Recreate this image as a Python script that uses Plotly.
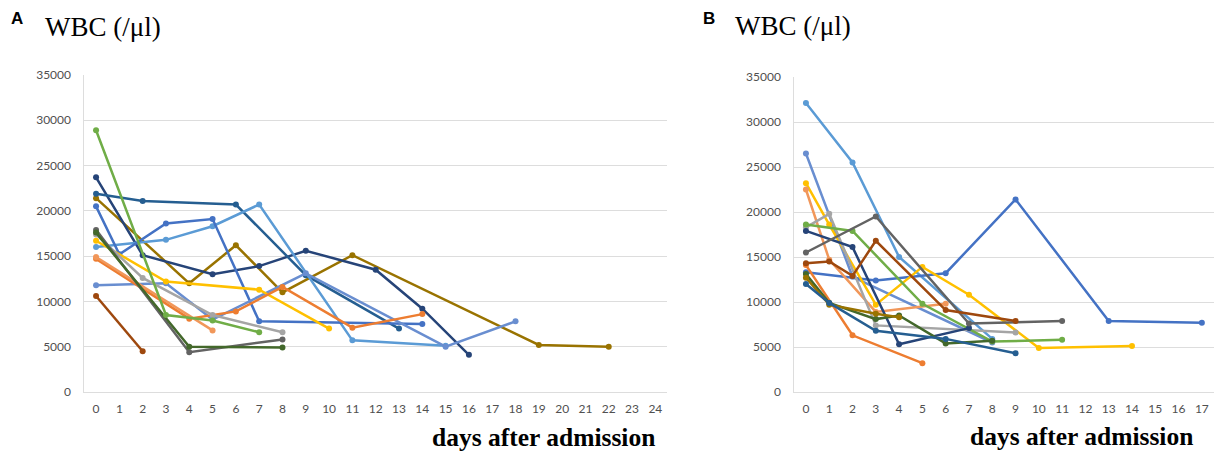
import plotly.graph_objects as go

# ---------------- Panel A data (days after admission, WBC /µl) ----------------
A_green_days = [0, 3, 5, 7]
A_green_wbc = [28900, 8500, 7900, 6600]
A_navy_days = [0, 2, 5, 7, 9, 12, 14, 16]
A_navy_wbc = [23700, 15100, 13000, 13900, 15600, 13500, 9200, 4100]
A_steel_days = [0, 2, 6, 9, 13]
A_steel_wbc = [21900, 21100, 20700, 12900, 7000]
A_sky_days = [0, 3, 5, 7, 11, 15]
A_sky_wbc = [16000, 16800, 18300, 20700, 5700, 5100]
A_royal_days = [0, 1, 3, 5, 7, 14]
A_royal_wbc = [20500, 15200, 18600, 19100, 7800, 7500]
A_cornflower_days = [0, 3, 5, 9, 15, 18]
A_cornflower_wbc = [11800, 12000, 8000, 13100, 5000, 7800]
A_olive_days = [0, 4, 6, 8, 11, 19, 22]
A_olive_wbc = [21400, 12000, 16200, 11000, 15100, 5200, 5000]
A_gold_days = [0, 3, 7, 10]
A_gold_wbc = [16700, 12200, 11300, 7000]
A_orange_days = [0, 4, 6, 8, 11, 14]
A_orange_wbc = [14700, 8100, 8900, 11600, 7100, 8600]
A_lorange_days = [0, 5]
A_lorange_wbc = [14900, 6800]
A_gray_days = [0, 2, 5, 8]
A_gray_wbc = [17400, 12600, 8500, 6600]
A_charcoal_days = [0, 4, 8]
A_charcoal_wbc = [17900, 4400, 5800]
A_dgreen_days = [0, 4, 8]
A_dgreen_wbc = [17600, 5000, 4900]
A_rust_days = [0, 2]
A_rust_wbc = [10600, 4500]

# ---------------- Panel B data ----------------
B_sky_days = [0, 2, 4, 8]
B_sky_wbc = [32100, 25500, 15000, 5900]
B_cornflower_days = [0, 2, 8]
B_cornflower_wbc = [26500, 12800, 5500]
B_royal_days = [0, 3, 6, 9, 13, 17]
B_royal_wbc = [13300, 12400, 13200, 21400, 7900, 7700]
B_gold_days = [0, 1, 3, 5, 7, 10, 14]
B_gold_wbc = [23200, 18600, 9700, 13900, 10800, 4900, 5100]
B_lorange_days = [0, 1, 3, 6]
B_lorange_wbc = [22500, 14700, 8900, 9800]
B_orange_days = [0, 2, 5]
B_orange_wbc = [14100, 6300, 3200]
B_gray_days = [0, 1, 3, 9]
B_gray_wbc = [18300, 19800, 7400, 6600]
B_green_days = [0, 2, 5, 8, 11]
B_green_wbc = [18600, 17900, 9800, 5600, 5800]
B_navy_days = [0, 2, 4, 7]
B_navy_wbc = [17900, 16100, 5300, 7100]
B_charcoal_days = [0, 3, 7, 11]
B_charcoal_wbc = [15500, 19500, 7600, 7900]
B_rust_days = [0, 1, 2, 3, 6, 9]
B_rust_wbc = [14300, 14500, 12900, 16800, 9100, 7900]
B_dgreen_days = [0, 1, 3, 4, 6, 8]
B_dgreen_wbc = [13100, 9900, 8100, 8500, 5400, 5700]
B_olive_days = [0, 1, 3, 4]
B_olive_wbc = [12700, 9700, 8700, 8300]
B_steel_days = [0, 1, 3, 6, 9]
B_steel_wbc = [12000, 9900, 6800, 5900, 4300]

A_ticks = list(range(0, 25))
B_ticks = list(range(0, 18))
Y_ticks = [0, 5000, 10000, 15000, 20000, 25000, 30000, 35000]

COL = {
    "royal": "#4472C4", "orange": "#ED7D31", "gray": "#A5A5A5", "gold": "#FFC000",
    "sky": "#5B9BD5", "green": "#70AD47", "navy": "#264478", "rust": "#9E480E",
    "charcoal": "#636363", "olive": "#997300", "steel": "#255E91", "dgreen": "#43682B",
    "cornflower": "#698ED0", "lorange": "#F1975A",
}

A_series = [
    ("olive", A_olive_days, A_olive_wbc), ("navy", A_navy_days, A_navy_wbc),
    ("steel", A_steel_days, A_steel_wbc), ("sky", A_sky_days, A_sky_wbc),
    ("royal", A_royal_days, A_royal_wbc), ("cornflower", A_cornflower_days, A_cornflower_wbc),
    ("gold", A_gold_days, A_gold_wbc), ("orange", A_orange_days, A_orange_wbc),
    ("lorange", A_lorange_days, A_lorange_wbc), ("gray", A_gray_days, A_gray_wbc),
    ("charcoal", A_charcoal_days, A_charcoal_wbc), ("dgreen", A_dgreen_days, A_dgreen_wbc),
    ("rust", A_rust_days, A_rust_wbc), ("green", A_green_days, A_green_wbc),
]
B_series = [
    ("sky", B_sky_days, B_sky_wbc), ("cornflower", B_cornflower_days, B_cornflower_wbc),
    ("royal", B_royal_days, B_royal_wbc), ("gold", B_gold_days, B_gold_wbc),
    ("lorange", B_lorange_days, B_lorange_wbc), ("orange", B_orange_days, B_orange_wbc),
    ("gray", B_gray_days, B_gray_wbc), ("green", B_green_days, B_green_wbc),
    ("navy", B_navy_days, B_navy_wbc), ("charcoal", B_charcoal_days, B_charcoal_wbc),
    ("rust", B_rust_days, B_rust_wbc), ("dgreen", B_dgreen_days, B_dgreen_wbc),
    ("olive", B_olive_days, B_olive_wbc), ("steel", B_steel_days, B_steel_wbc),
]

fig = go.Figure()
for name, d, v in A_series:
    fig.add_trace(go.Scatter(x=d, y=v, mode="lines+markers", xaxis="x", yaxis="y",
                             line=dict(color=COL[name], width=2.5),
                             marker=dict(color=COL[name], size=6), showlegend=False))
for name, d, v in B_series:
    fig.add_trace(go.Scatter(x=d, y=v, mode="lines+markers", xaxis="x2", yaxis="y2",
                             line=dict(color=COL[name], width=2.5),
                             marker=dict(color=COL[name], size=6), showlegend=False))

W, H = 1216, 455
tickfont = dict(family="Lato", size=12, color="#505050")
grid = "#DDDDDD"

def xax(domain, ticks, anchor):
    return dict(domain=domain, range=[-0.5, ticks[-1] + 0.5], tickmode="array",
                tickvals=ticks, ticktext=[str(t) for t in ticks], showgrid=False,
                zeroline=False, showline=True, linecolor=grid, linewidth=1,
                ticks="", tickfont=tickfont, anchor=anchor, ticklabelstandoff=6,
                automargin=False)

def yax(domain, anchor):
    return dict(domain=domain, range=[0, 35000], tickmode="array", tickvals=Y_ticks,
                ticktext=[str(t) for t in Y_ticks], showgrid=True, gridcolor=grid,
                gridwidth=1, zeroline=False, showline=True, linecolor=grid,
                ticks="", tickfont=tickfont, anchor=anchor, ticklabelstandoff=10,
                automargin=False)

fig.update_layout(
    width=W, height=H, margin=dict(l=0, r=0, t=0, b=0, autoexpand=False),
    paper_bgcolor="white", plot_bgcolor="white",
    xaxis=xax([84.4 / W, 667 / W], A_ticks, "y"),
    yaxis=yax([(H - 392) / H, (H - 75) / H], "x"),
    xaxis2=xax([794.3 / W, 1213.5 / W], B_ticks, "y2"),
    yaxis2=yax([(H - 392) / H, (H - 77) / H], "x2"),
)

serif = "Liberation Serif"
def ann(text, x, y, font, xanchor="left"):
    fig.add_annotation(text=text, x=x / W, y=1 - y / H, xref="paper", yref="paper",
                       xanchor=xanchor, yanchor="middle", showarrow=False, font=font)

ann("<b>A</b>", 9, 19, dict(family="Liberation Sans", size=17, color="black"))
ann("<b>B</b>", 701, 19, dict(family="Liberation Sans", size=17, color="black"))
ann("WBC (/μl)", 43, 27, dict(family=serif, size=27, color="black"))
ann("WBC (/μl)", 733, 26, dict(family=serif, size=27, color="black"))
ann("<b>days after admission</b>", 430, 437, dict(family=serif, size=25.5, color="black"))
ann("<b>days after admission</b>", 968, 436, dict(family=serif, size=25.5, color="black"))

fig.write_html("out.html", config={"displayModeBar": False},
               post_script="document.body.style.margin='0';document.body.style.padding='0';")
